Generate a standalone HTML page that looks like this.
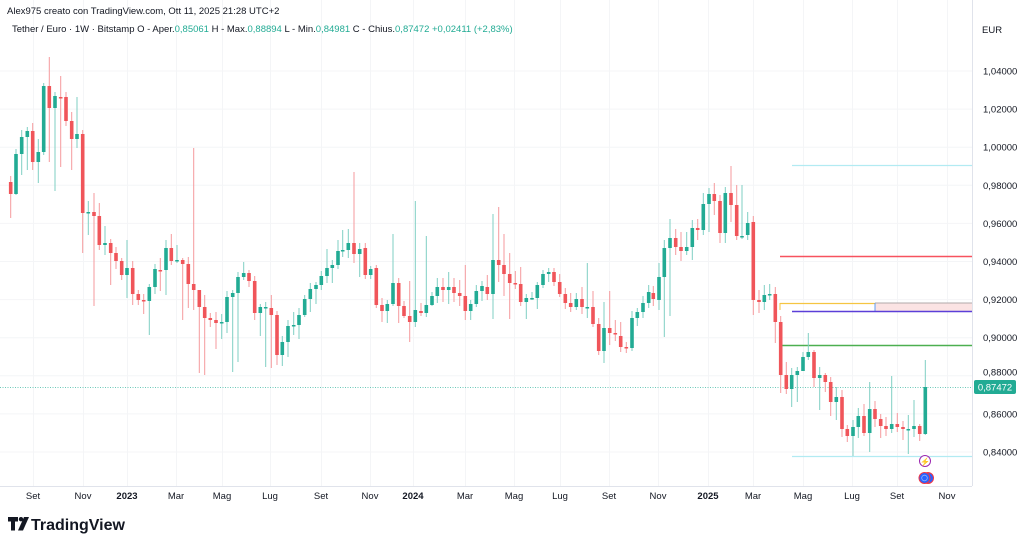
<!DOCTYPE html>
<html><head><meta charset="utf-8">
<style>
html,body{margin:0;padding:0;background:#fff;width:1024px;height:545px;overflow:hidden;font-family:"Liberation Sans",sans-serif;}
svg{position:absolute;left:0;top:0}
</style></head><body>
<svg id="s" width="1024" height="545" xmlns="http://www.w3.org/2000/svg" font-family="Liberation Sans, sans-serif">
<g id="grid" stroke="#f4f5f7" stroke-width="1"></g>
<g id="lines"></g>
<g id="candles"></g>
<line x1="972.5" y1="0" x2="972.5" y2="486" stroke="#e0e3eb"/>
<line x1="0" y1="486.5" x2="972" y2="486.5" stroke="#e0e3eb"/>
<text x="7" y="14" font-size="9.5" fill="#131722">Alex975 creato con TradingView.com, Ott 11, 2025 21:28 UTC+2</text>
<text x="12" y="32" font-size="9.5" fill="#131722">Tether / Euro · 1W · Bitstamp  O - Aper.<tspan fill="#22ab94">0,85061</tspan>  H - Max.<tspan fill="#22ab94">0,88894</tspan>  L - Min.<tspan fill="#22ab94">0,84981</tspan>  C - Chius.<tspan fill="#22ab94">0,87472</tspan>  <tspan fill="#22ab94">+0,02411 (+2,83%)</tspan></text>
<text x="982" y="33" font-size="9.5" fill="#131722">EUR</text>
<g id="ylab" font-size="9.5" fill="#131722"></g>
<g id="xlab" font-size="9.5" fill="#131722" text-anchor="middle"></g>
<rect x="974" y="380" width="42" height="14" rx="2" fill="#22ab94"/>
<text x="995" y="390.5" font-size="9.5" fill="#fff" text-anchor="middle">0,87472</text>
<circle cx="925" cy="461" r="5.5" fill="#fff" stroke="#9c27b0" stroke-width="1"/>
<text x="925" y="464.5" font-size="8" fill="#9c27b0" text-anchor="middle">⚡</text>
<circle cx="928" cy="478" r="5.5" fill="#2962ff" stroke="#f23645" stroke-width="1"/>
<circle cx="924.5" cy="478" r="5.5" fill="#2962ff" stroke="#f23645" stroke-width="1"/>
<circle cx="924.5" cy="478" r="2.8" fill="none" stroke="#90b4ff" stroke-width="0.8"/>
<g transform="translate(8,517)" fill="#131722">
<path d="M0 0h10v4.5H7v9H3v-9H0z"/><circle cx="13" cy="2.2" r="2.2"/><path d="M16 0h5l-6 13.5h-5z"/>
</g>
<text x="31" y="530" font-size="16" font-weight="bold" fill="#131722">TradingView</text>
</svg>
<script>
var NS="http://www.w3.org/2000/svg";
function el(p,t,a,txt){var e=document.createElementNS(NS,t);for(var k in a)e.setAttribute(k,a[k]);if(txt)e.textContent=txt;document.getElementById(p).appendChild(e);return e;}
var xl=[[33,"Set"],[83,"Nov"],[127,"2023",1],[176,"Mar"],[222,"Mag"],[270,"Lug"],[321,"Set"],[370,"Nov"],[413,"2024",1],[465,"Mar"],[514,"Mag"],[560,"Lug"],[609,"Set"],[658,"Nov"],[708,"2025",1],[753,"Mar"],[803,"Mag"],[852,"Lug"],[897,"Set"],[947,"Nov"]];
xl.forEach(function(a){el("grid","line",{x1:a[0]+.5,y1:0,x2:a[0]+.5,y2:486});var t=el("xlab","text",{x:a[0],y:499},a[1]);if(a[2]){t.setAttribute("font-weight","bold");}});
var yl=["1,04000","1,02000","1,00000","0,98000","0,96000","0,94000","0,92000","0,90000","0,88000","0,86000","0,84000"];
yl.forEach(function(s,i){var y=71+i*38.1;el("grid","line",{x1:0,y1:y.toFixed(1),x2:972,y2:y.toFixed(1)});if(i!=8)el("ylab","text",{x:983,y:(y+3.5).toFixed(1)},s);else el("ylab","text",{x:983,y:(y+3.5-4).toFixed(1)},s);});
function L(x1,y,x2,c,w,d){var a={x1:x1,y1:y,x2:x2,y2:y,stroke:c,"stroke-width":w||1};if(d)a["stroke-dasharray"]=d;el("lines","line",a);}
L(0,387.5,972,"#6cc9b9",1,"1,1.5");
L(792,165.5,972,"#b2ebf2",1.2);
L(780,256.5,972,"#f7525f",1.5);
el("lines","rect",{x:875,y:303,width:97,height:8,fill:"#fbe3e3"});
L(780,303.5,875,"#f5c542",1.3);
L(875,303,972,"#b0a8a8",1);
el("lines","line",{x1:875,y1:303,x2:875,y2:311,stroke:"#5b9cf6","stroke-width":1});
el("lines","line",{x1:780,y1:303,x2:780,y2:310,stroke:"#f5c542","stroke-width":1});
L(792,311.5,972,"#5b3fd8",1.5);
L(780,345.5,972,"#4caf50",1.5);
L(792,456.5,972,"#b2ebf2",1.2);
var D=[[10.7,182,194,176,218],[16,194,154,0,195],[21.7,154,137,0,175],[27.3,137,131,0,170],[32.7,131,162,123,170],[38.3,162,152,139,183],[43.7,152,86,83,0],[49.3,86,108,57,162],[55,108,96,0,191],[60.7,97,97,76,167],[66,97,121,92,0],[71.7,121,139,112,170],[77,139,134,97,148],[82.7,134,213,0,253],[88.3,212,212,201,235],[94,212,216,193,306],[99.3,216,245,203,0],[105,245,243,226,255],[110.7,243,253,0,285],[116,253,261,0,0],[121.7,261,275,0,280],[127,275,268,240,298],[132.7,268,294,0,305],[138.3,294,300,0,305],[143.7,300,301,0,314],[149.3,301,287,0,335],[155,287,269,0,0],[160.3,270,270,258,291],[166,270,248,240,295],[171.3,248,261,234,0],[177,260,260,245,263],[182.7,260,264,258,320],[188.3,264,284,0,308],[193.7,284,290,148,310],[199.3,290,307,295,373],[204.7,307,318,295,375],[210.3,318,320,0,327],[216,320,323,312,349],[221.7,322,322,314,339],[227,322,297,0,333],[232.7,297,293,0,372],[238,293,277,0,362],[243.7,277,273,262,0],[249,273,281,270,287],[254.7,281,313,276,0],[260.3,313,307,0,336],[265.7,307,307,0,367],[271.3,308,315,295,368],[277,315,355,0,365],[282.3,355,342,0,366],[288,342,326,320,357],[293.7,326,325,312,335],[299,325,315,0,339],[304.7,315,299,0,317],[310.3,299,289,0,312],[316,289,285,0,304],[321.3,285,276,0,290],[327,276,268,249,283],[332.3,268,265,260,283],[338,265,251,240,0],
[342.7,251,250,230,257],[348.3,250,243,229,0],[354,243,254,172,263],[359.7,254,249,243,277],[365.3,248,275,243,279],[370.7,275,269,266,0],[376.3,268,305,265,0],[382,305,311,298,322],[387.3,311,304,0,323],[393,304,283,234,306],[398.7,283,306,278,323],[404,306,316,301,318],[409.7,316,322,281,342],[415.3,322,310,201,327],[421,311,313,303,316],[426.3,313,305,236,317],[432,305,296,292,306],[437.3,296,287,278,303],[443,287,290,278,302],[448.7,290,287,272,304],[454,287,293,278,302],[459.7,293,296,280,306],[465.3,296,311,265,320],[470.7,311,304,0,320],[476.3,304,291,285,0],[482,291,286,281,301],[487.3,287,294,275,300],[493,294,260,214,319],[498.7,260,265,207,282],[504,265,274,234,296],[509.7,274,283,253,319],[515.3,283,284,271,289],[520.7,284,302,267,306],[526.3,302,298,0,319],[532,298,298,292,300],[537.3,298,285,0,309],[543,285,274,270,0],[548.7,274,272,268,282],[554,272,282,268,286],[559.7,282,294,274,297],[565.3,294,303,288,309],[570.7,303,307,293,312],[576.3,307,299,293,310],[582,299,307,287,314],[587.3,307,307,263,318],[593,307,324,291,327],[598.7,324,351,318,355],[604,351,328,302,363],[609.7,328,333,291,345],[615.3,333,334,320,341],[620.7,336,347,322,352],[626.3,347,348,0,353],[632,348,318,0,351],[637.3,318,312,0,326],[643,312,303,296,318],[648.7,303,292,285,308],[653.3,293,299,286,306],[659,300,277,263,310],[664.3,277,248,240,337],[670,248,238,219,316],[675.7,238,247,229,255],[681,247,251,232,261],[686.7,251,247,232,255],[692.3,247,228,220,260],[697.7,228,230,219,240],[703.3,230,204,193,235],[709,204,194,188,232],[714.3,194,201,183,215],[720,201,233,195,243],[725.3,233,193,187,243],[731,193,205,166,222],[736.7,205,236,185,240],[742,236,236,185,239],[747.7,235,223,212,240],[753.3,222,300,0,315],[759,300,302,290,313],[764.3,302,295,285,310],[769.7,295,294,284,300],[775.3,294,322,287,343],[780.7,322,375,0,393],[786.3,375,389,362,394],[791.7,389,375,368,407],[797.3,375,371,367,402],[803,371,357,352,370],[808.3,357,352,333,360],[814,352,378,350,387],[819.7,378,375,367,410],[825.3,375,382,373,392],[830.7,382,402,377,416],[836.3,402,397,387,420],[842,397,429,390,437],[847.3,429,436,425,442],[853,436,427,420,456],[858.3,427,416,408,438],[864,416,433,404,436],[869.7,433,409,382,452],[875,409,419,401,427],[880.7,419,426,414,438],[886,426,429,417,436],[891.7,429,424,376,433],[897.3,424,427,413,432],[903,427,429,421,440],[908.3,429,429,415,454],[914,429,426,400,437],[919.7,426,434,424,441],[925.3,434,387,360,435]];
D.forEach(function(d,i){var x=d[0],o=d[1],c=d[2],top=Math.min(o,c),bot=Math.max(o,c);
var h=d[3]||top-3-(i*7%5),l=d[4]||bot+3+(i*11%6);var up=c<o||(c==o&&i%2==0);
var col=up?"#22ab94":"#f0555a";var wc=up?"#7fcfc3":"#f59a9d";
el("candles","line",{x1:x,y1:h,x2:x,y2:l,stroke:wc,"stroke-width":1});
el("candles","rect",{x:(x-1.8).toFixed(1),y:top,width:3.6,height:Math.max(bot-top,1.5),fill:col});});
</script>
</body></html>
